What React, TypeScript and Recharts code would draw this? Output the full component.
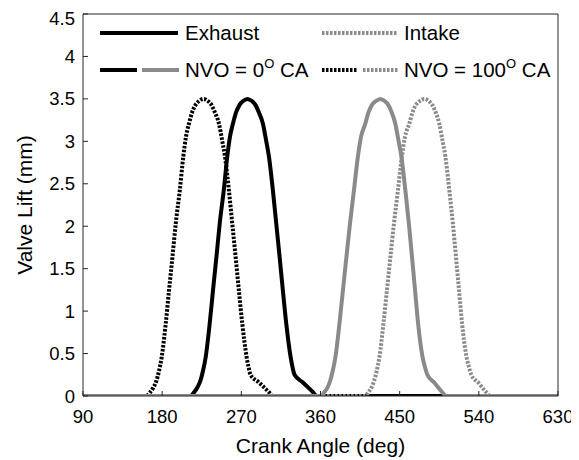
import React from 'react';
import { LineChart, Line, XAxis, YAxis } from 'recharts';

type Pt = { deg: number; lift: number };

// valve lift profiles (crank angle in deg, lift in mm)
const exhaustNvo0: Pt[] = [
  { deg: 90, lift: 0 }, { deg: 212, lift: 0 }, { deg: 216, lift: 0.04 }, { deg: 220, lift: 0.1 },
  { deg: 223.5, lift: 0.18 }, { deg: 226.5, lift: 0.3 }, { deg: 229.5, lift: 0.46 }, { deg: 234, lift: 0.85 },
  { deg: 237.8, lift: 1.245 }, { deg: 241.7, lift: 1.64 }, { deg: 245.4, lift: 2.03 }, { deg: 250, lift: 2.42 },
  { deg: 254, lift: 2.82 }, { deg: 257, lift: 3.05 }, { deg: 260.5, lift: 3.21 }, { deg: 264, lift: 3.34 },
  { deg: 268, lift: 3.43 }, { deg: 272, lift: 3.475 }, { deg: 277, lift: 3.5 }, { deg: 282, lift: 3.475 },
  { deg: 286, lift: 3.43 }, { deg: 290, lift: 3.34 }, { deg: 294.5, lift: 3.21 }, { deg: 298, lift: 3.02 },
  { deg: 301.4, lift: 2.82 }, { deg: 305.9, lift: 2.42 }, { deg: 309.7, lift: 2.03 }, { deg: 313.5, lift: 1.64 },
  { deg: 317.2, lift: 1.245 }, { deg: 321.1, lift: 0.85 }, { deg: 326, lift: 0.46 }, { deg: 328, lift: 0.35 },
  { deg: 330.5, lift: 0.25 }, { deg: 340, lift: 0.16 }, { deg: 351, lift: 0.05 }, { deg: 356, lift: 0 },
  { deg: 630, lift: 0 },
];

const exhaustNvo100: Pt[] = [
  { deg: 90, lift: 0 }, { deg: 162, lift: 0 }, { deg: 166, lift: 0.04 }, { deg: 170, lift: 0.1 },
  { deg: 173.5, lift: 0.18 }, { deg: 176.5, lift: 0.3 }, { deg: 179.5, lift: 0.46 }, { deg: 184, lift: 0.85 },
  { deg: 187.8, lift: 1.245 }, { deg: 191.7, lift: 1.64 }, { deg: 195.4, lift: 2.03 }, { deg: 200, lift: 2.42 },
  { deg: 204, lift: 2.82 }, { deg: 207, lift: 3.05 }, { deg: 210.5, lift: 3.21 }, { deg: 214, lift: 3.34 },
  { deg: 218, lift: 3.43 }, { deg: 222, lift: 3.475 }, { deg: 227, lift: 3.5 }, { deg: 232, lift: 3.475 },
  { deg: 236, lift: 3.43 }, { deg: 240, lift: 3.34 }, { deg: 244.5, lift: 3.21 }, { deg: 248, lift: 3.02 },
  { deg: 251.4, lift: 2.82 }, { deg: 255.9, lift: 2.42 }, { deg: 259.7, lift: 2.03 }, { deg: 263.5, lift: 1.64 },
  { deg: 267.2, lift: 1.245 }, { deg: 271.1, lift: 0.85 }, { deg: 276, lift: 0.46 }, { deg: 278, lift: 0.35 },
  { deg: 280.5, lift: 0.25 }, { deg: 290, lift: 0.16 }, { deg: 301, lift: 0.05 }, { deg: 306, lift: 0 },
  { deg: 630, lift: 0 },
];

const intakeNvo0: Pt[] = [
  { deg: 90, lift: 0 }, { deg: 361, lift: 0 }, { deg: 364, lift: 0.04 }, { deg: 368, lift: 0.1 },
  { deg: 371, lift: 0.18 }, { deg: 374, lift: 0.3 }, { deg: 377, lift: 0.46 }, { deg: 381.5, lift: 0.85 },
  { deg: 385.5, lift: 1.245 }, { deg: 389.5, lift: 1.64 }, { deg: 393.5, lift: 2.03 }, { deg: 398, lift: 2.42 },
  { deg: 402.5, lift: 2.82 }, { deg: 406, lift: 3.05 }, { deg: 411, lift: 3.21 }, { deg: 414.5, lift: 3.34 },
  { deg: 418.5, lift: 3.43 }, { deg: 423, lift: 3.475 }, { deg: 428, lift: 3.5 }, { deg: 433, lift: 3.475 },
  { deg: 437, lift: 3.43 }, { deg: 441, lift: 3.34 }, { deg: 445, lift: 3.21 }, { deg: 448.5, lift: 3.02 },
  { deg: 452, lift: 2.82 }, { deg: 456.5, lift: 2.42 }, { deg: 460.5, lift: 2.03 }, { deg: 464, lift: 1.64 },
  { deg: 467.5, lift: 1.245 }, { deg: 471, lift: 0.85 }, { deg: 476, lift: 0.46 }, { deg: 478.5, lift: 0.35 },
  { deg: 481.5, lift: 0.25 }, { deg: 490, lift: 0.15 }, { deg: 498, lift: 0.05 }, { deg: 503, lift: 0 },
  { deg: 630, lift: 0 },
];

const intakeNvo100: Pt[] = [
  { deg: 90, lift: 0 }, { deg: 411, lift: 0 }, { deg: 414, lift: 0.04 }, { deg: 418, lift: 0.1 },
  { deg: 421, lift: 0.18 }, { deg: 424, lift: 0.3 }, { deg: 427, lift: 0.46 }, { deg: 431.5, lift: 0.85 },
  { deg: 435.5, lift: 1.245 }, { deg: 439.5, lift: 1.64 }, { deg: 443.5, lift: 2.03 }, { deg: 448, lift: 2.42 },
  { deg: 452.5, lift: 2.82 }, { deg: 456, lift: 3.05 }, { deg: 461, lift: 3.21 }, { deg: 464.5, lift: 3.34 },
  { deg: 468.5, lift: 3.43 }, { deg: 473, lift: 3.475 }, { deg: 478, lift: 3.5 }, { deg: 483, lift: 3.475 },
  { deg: 487, lift: 3.43 }, { deg: 491, lift: 3.34 }, { deg: 495, lift: 3.21 }, { deg: 498.5, lift: 3.02 },
  { deg: 502, lift: 2.82 }, { deg: 506.5, lift: 2.42 }, { deg: 510.5, lift: 2.03 }, { deg: 514, lift: 1.64 },
  { deg: 517.5, lift: 1.245 }, { deg: 521, lift: 0.85 }, { deg: 526, lift: 0.46 }, { deg: 528.5, lift: 0.35 },
  { deg: 531.5, lift: 0.25 }, { deg: 540, lift: 0.15 }, { deg: 548, lift: 0.05 }, { deg: 553, lift: 0 },
  { deg: 630, lift: 0 },
];

const angleTicks = [90, 180, 270, 360, 450, 540, 630];
const liftTicks = [0, 0.5, 1, 1.5, 2, 2.5, 3, 3.5, 4, 4.5];

const FONT = '"Liberation Sans", Arial, Helvetica, sans-serif';
const GRAY = '#8a8a8a';
const DOTS = '2.5 1.5';
const AXIS = '#262626';

const XTitle = (props: any) => {
  const vb = props.viewBox || { x: 75, y: 388, width: 475 };
  return (
    <text x={vb.x + vb.width / 2} y={vb.y + 56.5} textAnchor="middle" fontSize={21} fontFamily={FONT} fill="#000">
      Crank Angle (deg)
    </text>
  );
};

const YTitle = (props: any) => {
  const vb = props.viewBox || { y: 6, height: 382 };
  const cx = 24;
  const cy = vb.y + vb.height / 2;
  return (
    <text x={cx} y={cy} transform={`rotate(-90 ${cx} ${cy})`} textAnchor="middle" fontSize={21} fontFamily={FONT} fill="#000">
      Valve Lift (mm)
    </text>
  );
};

// legend drawn as an overlay, like the MATLAB one inside the axes
const LegendBox = () => (
  <svg width={571} height={100} style={{ position: 'absolute', left: 0, top: 0, pointerEvents: 'none' }}>
    <g fontFamily={FONT} fontSize={20.5} fill="#000">
      <line x1={92} x2={170} y1={25} y2={25} stroke="#000" strokeWidth={4} />
      <text x={177} y={32}>Exhaust</text>
      <line x1={314} x2={390} y1={25} y2={25} stroke={GRAY} strokeWidth={4} strokeDasharray={DOTS} />
      <text x={396} y={32}>Intake</text>

      <line x1={92} x2={129} y1={62} y2={62} stroke="#000" strokeWidth={4} />
      <line x1={134} x2={171} y1={62} y2={62} stroke={GRAY} strokeWidth={4} />
      <text x={177} y={69}>
        NVO = 0<tspan dy={-9} fontSize={13}>O</tspan>
        <tspan dy={9}> CA</tspan>
      </text>
      <line x1={314} x2={349} y1={62} y2={62} stroke="#000" strokeWidth={4} strokeDasharray={DOTS} />
      <line x1={355} x2={390} y1={62} y2={62} stroke={GRAY} strokeWidth={4} strokeDasharray={DOTS} />
      <text x={396} y={69}>
        NVO = 100<tspan dy={-9} fontSize={13}>O</tspan>
        <tspan dy={9}> CA</tspan>
      </text>
    </g>
  </svg>
);

const App: React.FC = () => {
  const tickStyle = { fill: '#000', fontSize: 18.5, fontFamily: FONT };
  return (
    <div style={{ position: 'relative', width: 571, height: 452, fontFamily: FONT }}>
      <LineChart width={571} height={452} margin={{ top: 5, right: 20, left: 0, bottom: 0 }}>
        <XAxis
          dataKey="deg"
          type="number"
          domain={[90, 630]}
          ticks={angleTicks}
          allowDataOverflow
          height={64}
          tick={tickStyle}
          tickSize={-5}
          tickMargin={19}
          axisLine={{ stroke: AXIS }}
          tickLine={{ stroke: AXIS }}
          label={<XTitle />}
        />
        <XAxis
          xAxisId="top"
          orientation="top"
          type="number"
          domain={[90, 630]}
          ticks={angleTicks}
          allowDataOverflow
          height={1}
          tick={false}
          tickSize={-5}
          axisLine={{ stroke: AXIS }}
          tickLine={{ stroke: AXIS }}
        />
        <YAxis
          type="number"
          domain={[0, 4.5]}
          ticks={liftTicks}
          allowDataOverflow
          width={75}
          tick={tickStyle}
          tickSize={-5}
          tickMargin={13}
          axisLine={{ stroke: AXIS }}
          tickLine={{ stroke: AXIS }}
          label={<YTitle />}
        />
        <YAxis
          yAxisId="right"
          orientation="right"
          type="number"
          domain={[0, 4.5]}
          ticks={liftTicks}
          allowDataOverflow
          width={1}
          tick={false}
          tickSize={-5}
          axisLine={{ stroke: AXIS }}
          tickLine={{ stroke: AXIS }}
        />
        <Line data={exhaustNvo0} dataKey="lift" name="Exhaust, NVO = 0" type="monotone" stroke="#000" strokeWidth={4} dot={false} isAnimationActive={false} />
        <Line data={exhaustNvo100} dataKey="lift" name="Exhaust, NVO = 100" type="monotone" stroke="#000" strokeWidth={4} strokeDasharray={DOTS} dot={false} isAnimationActive={false} />
        <Line data={intakeNvo0} dataKey="lift" name="Intake, NVO = 0" type="monotone" stroke={GRAY} strokeWidth={4} dot={false} isAnimationActive={false} />
        <Line data={intakeNvo100} dataKey="lift" name="Intake, NVO = 100" type="monotone" stroke={GRAY} strokeWidth={4} strokeDasharray={DOTS} dot={false} isAnimationActive={false} />
      </LineChart>
      <LegendBox />
    </div>
  );
};

export default App;
